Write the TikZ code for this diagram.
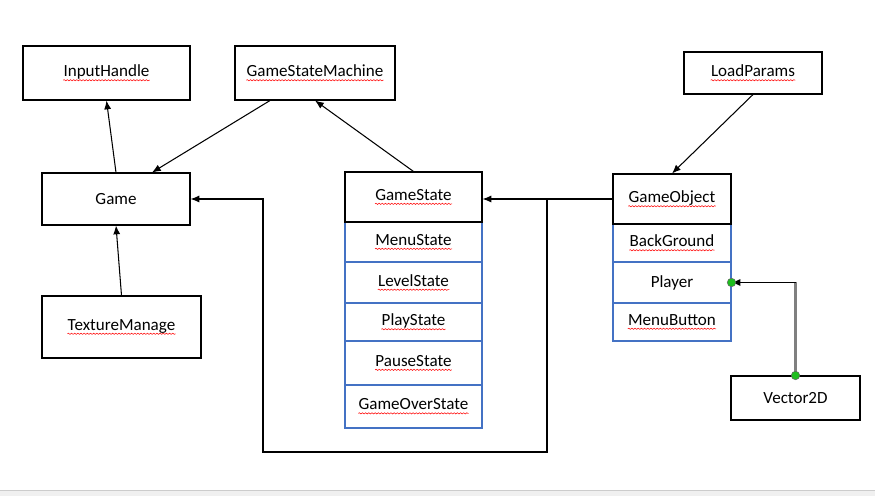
\documentclass[tikz,border=0pt]{standalone}
\usepackage{fontspec}
\setmainfont{Carlito}
\usetikzlibrary{arrows.meta,decorations.pathmorphing}

\definecolor{boxblue}{RGB}{68,114,196}
\definecolor{dotgreen}{RGB}{30,190,30}
\newcommand\spl[1]{\tikz[baseline=(w.base)]{\node[draw=none,fill=none,inner sep=0pt,minimum width=0pt,minimum height=0pt] (w) {#1};
  \draw[red,line width=0.3pt,decorate,decoration={snake,amplitude=0.35pt,segment length=1.8pt}] ([yshift=-2pt]w.base west) -- ([yshift=-2pt]w.base east);}}

\begin{document}
\begin{tikzpicture}[x=0.02cm,y=-0.02cm,
        font=\fontsize{9.7}{11}\selectfont,
        bx/.style={draw=black,line width=0.6pt,inner sep=0pt,fill=white},
        bxsub/.style={draw=boxblue,line width=0.6pt,inner sep=0pt,fill=white,minimum width=2.74cm},
        bxobj/.style={draw=boxblue,line width=0.6pt,inner sep=0pt,fill=white,minimum width=2.36cm},
        arr/.style={-{Latex[length=5pt,width=4pt]},line width=0.6pt}
      ]

      \useasboundingbox[fill=white] (0,0) rectangle (875,496);
      \fill[black!6] (0,490) rectangle (875,496);
      \draw[black!20] (0,490) -- (875,490);

      \node[bx,minimum width=3.34cm,minimum height=1.08cm] (inhandle) at (106.5,73) {\spl{InputHandle}};
      \node[bx,minimum width=3.2cm,minimum height=1.08cm] (gsm) at (315,73) {\spl{GameStateMachine}};
      \node[bx,minimum width=2.96cm,minimum height=1.04cm] (game) at (116,199) {Game};
      \node[bx,minimum width=3.18cm,minimum height=1.24cm] (texman) at (121.5,327) {\spl{TextureManage}};

      \node[bxsub,minimum height=0.8cm] (menust) at (413.5,242) {\spl{MenuState}};
      \node[bxsub,minimum height=0.82cm] (levelst) at (413.5,282.5) {\spl{LevelState}};
      \node[bxsub,minimum height=0.76cm] (playst) at (413.5,322) {\spl{PlayState}};
      \node[bxsub,minimum height=0.88cm] (pausest) at (413.5,363) {\spl{PauseState}};
      \node[bxsub,minimum height=0.86cm] (overst) at (413.5,406.5) {\spl{GameOverState}};
      \node[bx,minimum width=2.74cm,minimum height=1.0cm] (gstate) at (413.5,197) {\spl{GameState}};

      \node[bx,minimum width=2.76cm,minimum height=0.84cm] (lparams) at (753,73) {\spl{LoadParams}};
      \node[bxobj,minimum height=0.76cm] (bground) at (672,243) {\spl{BackGround}};
      \node[bxobj,minimum height=0.82cm] (player) at (672,282.5) {Player};
      \node[bxobj,minimum height=0.76cm] (mbutton) at (672,322) {\spl{MenuButton}};
      \node[bx,minimum width=2.36cm,minimum height=1.0cm] (gobject) at (672,199) {\spl{GameObject}};
      \node[bx,minimum width=2.58cm,minimum height=0.88cm] (vec) at (795.5,398) {Vector2D};

      \coordinate (jn) at (547,199);
      \coordinate (bl) at (263,452);
      \coordinate (bend) at (vec.north |- player.east);

      \draw[arr] (game.north) -- (inhandle.south);
      \draw[arr] ([xshift=-0.9cm]gsm.south) -- ([xshift=0.72cm]game.north);
      \draw[arr] (gstate.north) -- (gsm.south);
      \draw[arr] (texman.north) -- (game.south);
      \draw[arr] (lparams.south) -- (gobject.north);
      \draw[arr] (gobject.west) -- (gobject.west -| gstate.east);
      \draw[arr] (jn) |- (bl) |- (game.east);
      \draw[black!50,line width=1.3pt] (vec.north) -- (bend);
      \draw[arr] (bend) -- (player.east);
      \draw[fill=dotgreen,draw=black!60,line width=0.3pt] (player.east) circle (0.085cm);
      \draw[fill=dotgreen,draw=black!60,line width=0.3pt] (vec.north) circle (0.085cm);

    \end{tikzpicture}
\end{document}
